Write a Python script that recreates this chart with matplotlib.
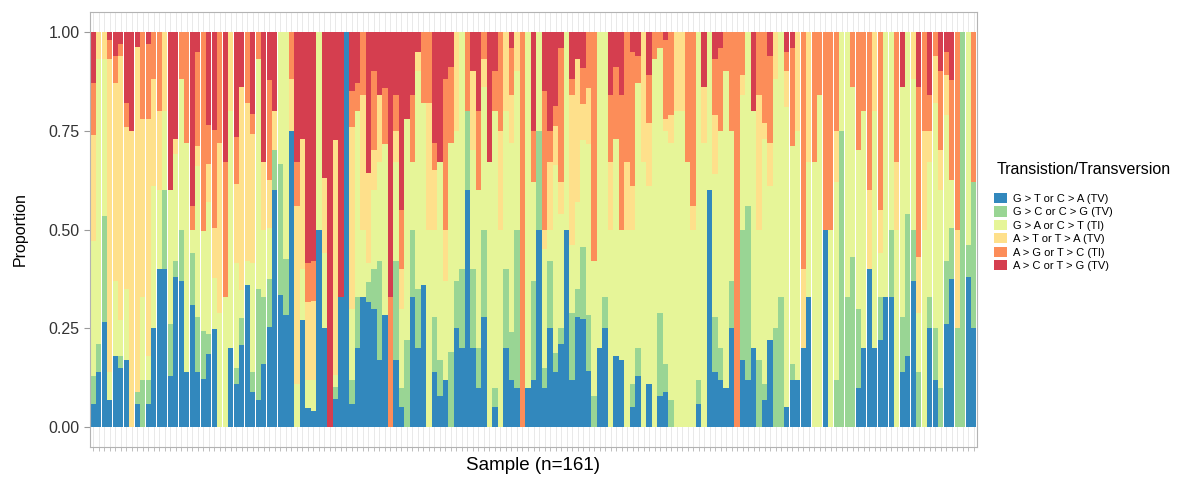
import numpy as np
import matplotlib
matplotlib.use("Agg")
import matplotlib.pyplot as plt
from matplotlib.patches import Patch

plt.rcParams['font.family'] = ['Liberation Sans', 'DejaVu Sans']

# mutation classes, bottom to top of each stacked bar
labels = ["G > T or C > A (TV)", "G > C or C > G (TV)", "G > A or C > T (TI)",
          "A > T or T > A (TV)", "A > G or T > C (TI)", "A > C or T > G (TV)"]
colors = ["#3288BD", "#99D594", "#E6F598", "#FEE08B", "#FC8D59", "#D53E4F"]

# proportions per sample (161 samples), one list per class
g_t = [.06, .14, .27, .07, .18, .15, .17, 0, .06, 0, .06, .25, .40, .40, .13, .38, .37, .14, .31, .14,
       .12, .19, .25, 0, 0, .20, .11, .21, .36, .09, .07, .16, .25, .60, .33, .28, .75, 0, .27, .05,
       .04, .50, .25, 0, .07, .33, 1, .06, .20, .33, .32, .30, .17, .28, 0, .17, .05, 0, .33, .20,
       .36, 0, .14, .08, .12, 0, .25, .20, .60, .20, .10, .28, 0, .05, 0, .20, .12, .10, 0, .10,
       .12, .50, .10, .25, .14, .21, .50, .12, .28, .27, .14, 0, .20, .25, 0, .18, .17, 0, .05, .13,
       0, .11, 0, .08, .09, 0, 0, 0, 0, 0, .06, 0, .60, .14, .12, .10, .25, 0, .17, .12,
       .20, 0, .07, .22, 0, 0, .05, .12, .12, .20, .33, 0, 0, .50, 0, 0, 0, 0, 0, .10,
       .20, .40, .20, .22, .33, .33, 0, .14, .18, .37, 0, 0, .25, .12, 0, .26, .37, 0, 0, .38,
       .25]
g_c = [.07, .07, .27, 0, 0, .03, 0, 0, .03, .12, .06, 0, 0, .20, .13, .04, .13, 0, .13, .14,
       .12, .05, 0, 0, 0, 0, .04, .07, 0, .05, .28, .17, .12, .10, .33, .14, 0, 0, 0, 0,
       0, 0, 0, 0, .03, 0, 0, .06, .13, 0, .05, .10, .25, 0, 0, .25, .05, .22, .17, .15,
       0, 0, .14, .09, 0, .19, .12, .20, .20, .20, .10, .22, 0, .05, 0, .20, .12, .40, 0, 0,
       .25, .25, .05, .17, .05, .04, 0, .17, .07, .18, .14, .08, 0, .08, 0, 0, 0, 0, .06, .07,
       0, 0, 0, .21, .07, .07, 0, 0, 0, 0, .06, 0, 0, .14, .08, 0, .12, 0, .33, .44,
       0, .17, .04, 0, .25, .33, 0, .04, 0, 0, 0, 0, 0, 0, 0, .12, .75, .33, .43, .20,
       0, 0, 0, .11, 0, .17, 0, .14, .36, .13, .14, 0, .08, .13, .10, .16, .13, .25, 1, .08,
       .37]
g_a = [.34, .72, .40, .07, .19, .09, .18, 0, 0, .21, .06, .36, .20, .20, .34, .27, .38, .58, .06, .38,
       .25, .34, .13, .29, .33, .60, .27, .07, .06, .28, .58, .17, .13, 0, .33, .57, 0, .11, .13, .07,
       .08, .50, .19, 0, .03, 0, 0, .18, .47, .17, .05, .20, .25, .43, 0, .25, .20, .56, .17, .55,
       .46, .50, .22, .50, .25, .53, .38, .60, 0, .30, .40, .36, .67, .70, .50, .40, .48, .40, 0, .90,
       .25, .25, .30, .08, .48, .29, .50, .17, .22, .27, .43, .34, .80, .67, .50, .55, .33, .50, .39, .67,
       .67, .50, .93, .67, .59, .65, .80, .80, .67, .50, .88, .72, .40, .36, .55, .80, .38, 0, .34, .44,
       .60, .33, .62, .39, .63, .67, .76, .55, .63, 0, .34, .67, .84, 0, .50, .50, .25, .67, .43, .40,
       .60, 0, .60, .11, .67, .50, .50, .58, .46, .38, .15, .50, .34, .57, .50, .37, .12, 0, 0, .54,
       0]
a_t = [.27, .07, .07, .79, .50, .67, .41, .75, .88, .45, .60, .27, .20, .20, 0, .04, 0, 0, 0, .05,
       0, .10, .13, .43, 0, .20, .20, .52, .40, .33, 0, .17, .12, .10, 0, 0, .13, .45, .33, .20,
       .20, 0, .19, 0, .59, 0, 0, .46, 0, .34, .23, .10, .17, 0, 0, .08, .10, 0, 0, .05,
       0, .32, .15, 0, .13, 0, .25, 0, 0, .20, 0, .07, 0, 0, .25, .20, .12, .10, 0, 0,
       0, 0, .05, .17, .10, .08, 0, .38, .36, .09, .14, 0, 0, 0, .17, 0, 0, .17, .11, 0,
       .33, .16, 0, 0, .03, .07, .20, .20, 0, .06, 0, .14, 0, .15, 0, 0, 0, 0, .05, 0,
       0, .34, .04, .11, .12, 0, .09, 0, .25, .20, .33, 0, 0, 0, 0, .13, 0, 0, 0, 0,
       0, .20, .20, .11, 0, 0, .17, 0, 0, .12, .14, .25, .08, .12, .10, .10, 0, .25, 0, 0,
       0]
a_g = [.13, 0, 0, .05, .07, .03, .06, 0, 0, .22, .19, .12, .20, 0, 0, 0, .12, .28, .06, .24,
       .50, .10, .25, .28, .34, 0, .12, 0, .18, .05, .07, 0, .25, 0, 0, 0, .12, .11, 0, .10,
       .10, 0, 0, 0, 0, 0, 0, .09, .07, .16, 0, .20, 0, .14, .33, .09, .15, 0, .17, 0,
       .18, .18, .07, 0, .38, .19, 0, 0, .20, 0, .20, .07, 0, .10, .25, 0, .12, 0, 1, 0,
       .13, 0, .35, .08, .05, .34, 0, .04, 0, .09, .14, .58, 0, 0, .17, .18, .34, .33, .34, .07,
       0, .12, .07, .04, .20, .21, 0, 0, .33, .44, 0, 0, 0, .14, .21, .10, .25, 1, .11, 0,
       0, .16, .23, .22, 0, 0, .05, .25, 0, .60, 0, .33, .16, .50, .50, .25, 0, 0, .14, .30,
       .20, .40, 0, .45, 0, 0, .33, 0, 0, 0, .43, .25, .09, .06, .20, .06, .25, .50, 0, 0,
       .38]
a_c = [.13, 0, 0, .02, .06, .03, .18, .25, .04, 0, .03, 0, 0, 0, .40, .27, 0, 0, .44, .05,
       0, .24, .25, 0, .33, 0, .27, .14, 0, .21, 0, .33, .12, .20, 0, 0, 0, .33, .27, .59,
       .58, 0, .37, 1, .27, .67, 0, .15, .13, 0, .36, .10, .16, .14, .67, .16, .45, .22, .16, .05,
       0, 0, .28, .33, .12, .09, 0, 0, 0, .10, .20, 0, .33, .10, 0, 0, .04, 0, 0, 0,
       .25, 0, .15, .25, .19, .04, 0, .12, .07, .09, 0, 0, 0, 0, .16, .09, .16, 0, .05, .06,
       0, .11, 0, 0, .02, 0, 0, 0, 0, 0, 0, .14, 0, .07, .04, 0, 0, 0, 0, 0,
       .20, 0, 0, .06, 0, 0, .05, .04, 0, 0, 0, 0, 0, 0, 0, 0, 0, 0, 0, 0,
       0, 0, 0, 0, 0, 0, 0, .14, 0, 0, .14, 0, .16, 0, .10, .05, .12, 0, 0, 0,
       0]

series = np.array([g_t, g_c, g_a, a_t, a_g, a_c], dtype=float)
series = series / series.sum(axis=0)
n = series.shape[1]
x = np.arange(n)

fig = plt.figure(figsize=(11.89, 4.78), dpi=100)
ax = fig.add_axes([90 / 1189, 1 - 447 / 478, 887 / 1189, 435 / 478])

bottom = np.zeros(n)
for vals, col, lab in zip(series, colors, labels):
    ax.bar(x, vals, bottom=bottom, width=0.95, color=col, linewidth=0, label=lab, zorder=2)
    bottom += vals

ax.set_xlim(-0.6, n - 0.4)
ax.set_ylim(-0.05, 1.05)
ax.set_xticks(x)
ax.set_xticklabels([])
ax.set_yticks([0, 0.25, 0.5, 0.75, 1.0])
ax.set_yticklabels(["0.00", "0.25", "0.50", "0.75", "1.00"], fontsize=11.5, color="#333333")
ax.set_axisbelow(True)
ax.grid(axis="x", color="#E5E5E5", linewidth=0.6, zorder=0)
for sp in ax.spines.values():
    sp.set_color("#B3B3B3")
    sp.set_linewidth(0.8)
ax.tick_params(axis="x", length=3, width=0.6, color="#B3B3B3")
ax.tick_params(axis="y", length=4, width=0.8, color="#9A9A9A")

ax.set_ylabel("Proportion", fontsize=11.5, labelpad=15)
ax.set_xlabel("Sample (n=161)", fontsize=13.5, labelpad=1)

fig.text(997 / 1189, 1 - 170 / 478, "Transistion/Transversion", fontsize=11.5, va="center")
handles = [Patch(facecolor=c, edgecolor="none") for c in colors]
fig.legend(handles, labels, loc="upper left", bbox_to_anchor=(994 / 1189, 1 - 193 / 478),
           frameon=False, fontsize=8, handlelength=1.15, handleheight=1.05,
           labelspacing=0.22, handletextpad=0.6, borderpad=0, borderaxespad=0)

fig.savefig("out.png", dpi=100)
